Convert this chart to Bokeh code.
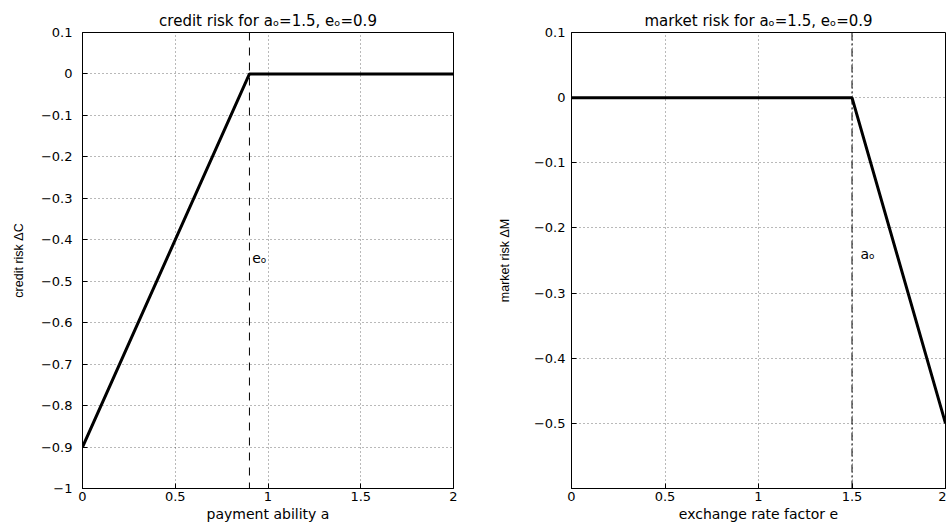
from bokeh.plotting import figure
from bokeh.layouts import row
from bokeh.models import Span, Label, FixedTicker, Range1d
from bokeh.embed import file_html
from bokeh.resources import INLINE

# ---- data ----
a0 = 1.5
e0 = 0.9
pay_ability = [0.0, 0.9, 2.0]
credit_risk = [-0.9, 0.0, 0.0]
exch_factor = [0.0, 1.5, 2.0]
market_risk = [0.0, 0.0, -0.5]

x_ticks = [0, 0.5, 1, 1.5, 2]
x_tick_labels = ["0", "0.5", "1", "1.5", "2"]
left_y_ticks = [0.1, 0, -0.1, -0.2, -0.3, -0.4, -0.5, -0.6, -0.7, -0.8, -0.9, -1]
left_y_tick_labels = ["0.1", "0", "\u22120.1", "\u22120.2", "\u22120.3", "\u22120.4",
                      "\u22120.5", "\u22120.6", "\u22120.7", "\u22120.8", "\u22120.9", "\u22121"]
right_y_ticks = [0.1, 0, -0.1, -0.2, -0.3, -0.4, -0.5]
right_y_tick_labels = ["0.1", "0", "\u22120.1", "\u22120.2", "\u22120.3", "\u22120.4", "\u22120.5"]

title_left = "credit risk for a\u2092=1.5, e\u2092=0.9"
title_right = "market risk for a\u2092=1.5, e\u2092=0.9"

TICK_FONT = "DejaVu Sans"


def style(p, yticks, ylabels, xlabel, ylabel, ytick_standoff, ylab_standoff):
    p.title.align = "center"
    p.title.text_font = TICK_FONT
    p.title.text_font_size = "15px"
    p.title.text_font_style = "normal"
    p.title.text_color = "black"
    p.title.standoff = 5
    p.outline_line_color = "black"
    p.outline_line_width = 1
    p.background_fill_color = "white"
    p.border_fill_color = "white"
    for ax in (p.xaxis[0], p.yaxis[0]):
        ax.axis_line_color = "black"
        ax.major_tick_line_color = "black"
        ax.major_tick_in = 5
        ax.major_tick_out = 0
        ax.minor_tick_line_color = None
        ax.major_label_text_font = TICK_FONT
        ax.major_label_text_font_size = "13px"
        ax.major_label_text_color = "black"
        ax.axis_label_text_color = "black"
    p.xaxis[0].ticker = FixedTicker(ticks=x_ticks)
    p.xaxis[0].major_label_overrides = dict(zip(x_ticks, x_tick_labels))
    p.yaxis[0].ticker = FixedTicker(ticks=yticks)
    p.yaxis[0].major_label_overrides = dict(zip(yticks, ylabels))
    p.xaxis[0].major_label_standoff = 3
    p.yaxis[0].major_label_standoff = ytick_standoff
    p.xaxis[0].axis_label = xlabel
    p.xaxis[0].axis_label_text_font = TICK_FONT
    p.xaxis[0].axis_label_text_font_size = "14px"
    p.xaxis[0].axis_label_text_font_style = "normal"
    p.xaxis[0].axis_label_standoff = 2
    p.yaxis[0].axis_label = ylabel
    p.yaxis[0].axis_label_text_font = "Liberation Sans"
    p.yaxis[0].axis_label_text_font_size = "12.5px"
    p.yaxis[0].axis_label_text_font_style = "normal"
    p.yaxis[0].axis_label_standoff = ylab_standoff
    for g in (p.xgrid[0], p.ygrid[0]):
        g.grid_line_color = "black"
        g.grid_line_alpha = 0.55
        g.grid_line_dash = "1 3"
        g.grid_line_width = 1


# ---- left: credit risk ----
p1 = figure(width=470, height=526, output_backend="svg", toolbar_location=None,
            x_range=Range1d(0, 2), y_range=Range1d(-1, 0.1),
            min_border_left=82, min_border_right=17, min_border_top=32, min_border_bottom=38,
            title=title_left)
style(p1, left_y_ticks, left_y_tick_labels, "payment ability a", "credit risk \u0394C", 10, 12)
p1.add_layout(Span(location=e0, dimension="height", line_color="black",
                   line_dash="8 7", line_width=1))
p1.line(pay_ability, credit_risk, line_color="black", line_width=3)
p1.add_layout(Label(x=e0 + 0.015, y=-0.445, text="e\u2092", text_font=TICK_FONT,
                    text_font_size="14px", text_baseline="middle", text_color="black"))

# ---- right: market risk ----
p2 = figure(width=476, height=526, output_backend="svg", toolbar_location=None,
            x_range=Range1d(0, 2), y_range=Range1d(-0.6, 0.1),
            min_border_left=101, min_border_right=1, min_border_top=32, min_border_bottom=38,
            title=title_right)
style(p2, right_y_ticks, right_y_tick_labels, "exchange rate factor e", "market risk \u0394M", 6, 19)
p2.add_layout(Span(location=a0, dimension="height", line_color="black",
                   line_dash="8 3 2 3", line_width=1))
p2.line(exch_factor, market_risk, line_color="black", line_width=3)
p2.add_layout(Label(x=a0 + 0.045, y=-0.24, text="a\u2092", text_font=TICK_FONT,
                    text_font_size="14px", text_baseline="middle", text_color="black"))

layout = row(p1, p2)
open("out.html", "w").write(file_html(layout, INLINE))
